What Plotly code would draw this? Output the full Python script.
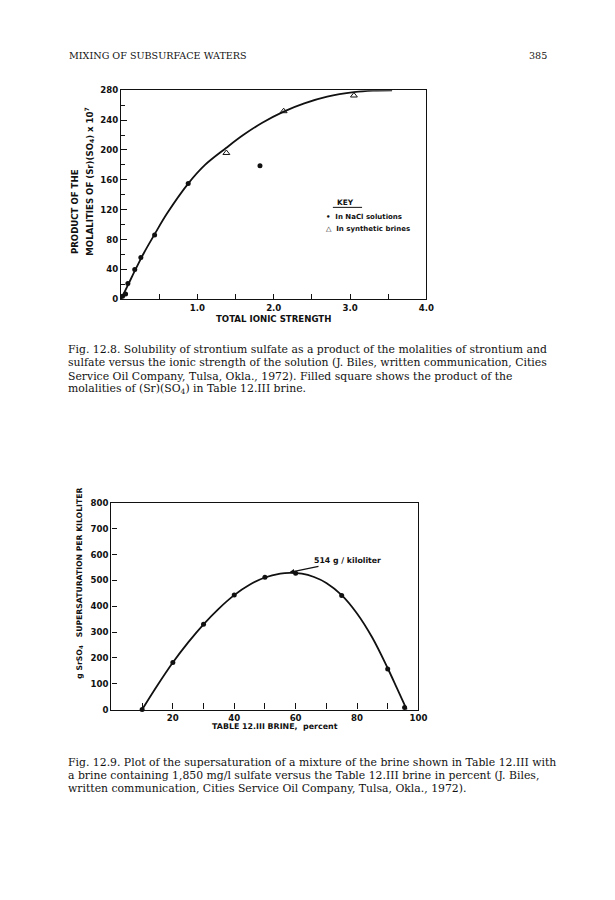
import plotly.graph_objects as go

W, H = 615, 900
OFF = 8  # browser body margin offset compensation
# empirical calibration of the rendered page (output ~= SX*x + BX, SY*y + BY)
SX, BX = 0.979, 1.4
SY, BY = 0.99, 4.0

# ---------------- Fig. 12.8 data ----------------
nacl_x = [0.02, 0.06, 0.09, 0.18, 0.26, 0.44, 0.88, 1.82]
nacl_y = [4, 7, 21, 40, 56, 86, 155, 179]
brine_x = [1.38, 2.13, 3.05]
brine_y = [196, 252, 273]
curve1_x = [0, 0.1, 0.2, 0.3, 0.44, 0.6, 0.88, 1.1, 1.38, 1.6, 1.85, 2.13, 2.4, 2.7, 3.05, 3.3, 3.55]
curve1_y = [0, 21, 42, 62, 87, 114.5, 155, 180, 203, 220, 236.5, 251.5, 262.5, 271.5, 277.5, 279.5, 280]
x1_tickvals = [1, 2, 3, 4]
x1_ticktext = ["1.0", "2.0", "3.0", "4.0"]
y1_tickvals = [0, 40, 80, 120, 160, 200, 240, 280]

# ---------------- Fig. 12.9 data ----------------
mix_x = [10, 20, 30, 40, 50, 60, 75, 90, 95.5]
mix_y = [0, 182, 330, 443, 512, 528, 441, 157, 8]
curve2_x = [10, 15, 20, 25, 30, 35, 40, 45, 50, 55, 58, 62, 66, 70, 75, 80, 85, 90, 93, 96.2]
curve2_y = [0, 94, 182, 260, 330, 391, 443, 483, 511, 526, 529, 526, 513, 490, 443, 372, 278, 160, 83, 0]
x2_tickvals = [20, 40, 60, 80, 100]
y2_tickvals = [0, 100, 200, 300, 400, 500, 600, 700, 800]
peak_label = "514 g / kiloliter"
peak_x, peak_y = 58, 531

INK = "#111111"
SANS = "DejaVu Sans"
SERIF = "DejaVu Serif"


def px(x):
    return ((x - BX) / SX - OFF) / W


def py(y):
    return 1 - ((y - BY) / SY - OFF) / H


fig = go.Figure()

# Fig 12.8 traces
fig.add_trace(go.Scatter(x=curve1_x, y=curve1_y, mode="lines", line=dict(color=INK, width=1.8, shape="spline", smoothing=1.0),
                         xaxis="x", yaxis="y", showlegend=False, hoverinfo="skip", cliponaxis=False))
fig.add_trace(go.Scatter(x=nacl_x, y=nacl_y, mode="markers", marker=dict(symbol="circle", size=5, color=INK),
                         xaxis="x", yaxis="y", showlegend=False, cliponaxis=False))
fig.add_trace(go.Scatter(x=brine_x, y=brine_y, mode="markers",
                         marker=dict(symbol="triangle-up-open", size=6, color=INK, line=dict(width=1)),
                         xaxis="x", yaxis="y", showlegend=False, cliponaxis=False))

# Fig 12.9 traces
fig.add_trace(go.Scatter(x=curve2_x, y=curve2_y, mode="lines", line=dict(color=INK, width=1.8, shape="spline", smoothing=1.0),
                         xaxis="x2", yaxis="y2", showlegend=False, hoverinfo="skip", cliponaxis=False))
fig.add_trace(go.Scatter(x=mix_x, y=mix_y, mode="markers", marker=dict(symbol="circle", size=5, color=INK),
                         xaxis="x2", yaxis="y2", showlegend=False, cliponaxis=False))

tickfont = dict(family=SANS, size=8.6, color=INK, weight="bold")
axis_common = dict(showline=True, linecolor=INK, linewidth=1.3, mirror=True, showgrid=False, zeroline=False,
                   ticks="inside", tickcolor=INK, tickwidth=1.1, tickfont=tickfont)

fig.update_layout(
    width=W, height=H, autosize=False, margin=dict(l=0, r=0, t=0, b=0),
    paper_bgcolor="white", plot_bgcolor="white", showlegend=False,
    xaxis=dict(domain=[px(121.5), px(425)], range=[0, 4], tickvals=x1_tickvals, ticktext=x1_ticktext,
               ticklen=5, minor=dict(ticks="inside", dtick=0.5, ticklen=5, tickcolor=INK, tickwidth=1.1),
               anchor="y", **axis_common),
    yaxis=dict(domain=[py(298.5), py(89.3)], range=[0, 280], tickvals=y1_tickvals, ticklen=6,
               minor=dict(ticks="inside", dtick=20, ticklen=4, tickcolor=INK, tickwidth=1.1),
               anchor="x", **axis_common),
    xaxis2=dict(domain=[px(112), px(417)], range=[0, 100], tickvals=x2_tickvals, ticklen=6,
                minor=dict(ticks="inside", dtick=10, ticklen=6, tickcolor=INK, tickwidth=1.1),
                anchor="y2", **axis_common),
    yaxis2=dict(domain=[py(709.3), py(502.3)], range=[0, 800], tickvals=y2_tickvals, ticklen=5,
                anchor="x2", **axis_common),
)

ann = []


def text(x, y, s, size=9, family=SANS, bold=True, xanchor="center", angle=0, yanchor="middle"):
    f = dict(family=family, size=size, color=INK)
    if bold:
        f["weight"] = "bold"
    ann.append(dict(x=px(x), y=py(y), xref="paper", yref="paper", text=s, showarrow=False,
                    xanchor=xanchor, yanchor=yanchor, textangle=angle, font=f))


# Axis titles Fig 12.8
text(273.5, 318, "TOTAL IONIC STRENGTH", size=8.6)
text(76, 211, "PRODUCT OF THE", size=8.6, angle=-90)
text(89.5, 181, "MOLALITIES OF (Sr)(SO<sub>4</sub>) x 10<sup>7</sup>", size=8.6, angle=-90)
# Key
text(345, 201.5, "KEY", size=7.4)
text(323, 216.5, "•  In NaCl solutions", size=7, xanchor="left")
text(323, 228, "\u25b3  In synthetic brines", size=7, xanchor="left")

# Axis titles Fig 12.9
text(275, 726, "TABLE 12.III BRINE,  percent", size=7.9)
text(81, 583, "g SrSO<sub>4</sub>   SUPERSATURATION PER KILOLITER", size=7.7, angle=-90)

# Peak annotation
ann.append(dict(x=peak_x, y=peak_y, xref="x2", yref="y2", text=peak_label, showarrow=True,
                ax=58, ay=-12, arrowhead=2, arrowsize=0.9, arrowwidth=1.1, arrowcolor=INK,
                font=dict(family=SANS, size=7.8, color=INK, weight="bold"), xanchor="center"))

# Page header
text(68, 54, "MIXING OF SUBSURFACE WATERS", size=9.6, family=SERIF, bold=False, xanchor="left")
text(547, 54, "385", size=9.6, family=SERIF, bold=False, xanchor="right")

cap1 = [
    "Fig. 12.8. Solubility of strontium sulfate as a product of the molalities of strontium and",
    "sulfate versus the ionic strength of the solution (J. Biles, written communication, Cities",
    "Service Oil Company, Tulsa, Okla., 1972). Filled square shows the product of the",
    "molalities of (Sr)(SO<sub>4</sub>) in Table 12.III brine.",
]
for i, line in enumerate(cap1):
    text(67, 349 + i * 13.2, line, size=10.85, family=SERIF, bold=False, xanchor="left")

cap2 = [
    "Fig. 12.9. Plot of the supersaturation of a mixture of the brine shown in Table 12.III with",
    "a brine containing 1,850 mg/l sulfate versus the Table 12.III brine in percent (J. Biles,",
    "written communication, Cities Service Oil Company, Tulsa, Okla., 1972).",
]
for i, line in enumerate(cap2):
    text(67, 762 + i * 13.2, line, size=10.85, family=SERIF, bold=False, xanchor="left")

fig.update_layout(annotations=ann,
                  shapes=[dict(type="line", xref="paper", yref="paper", x0=px(332), x1=px(361),
                               y0=py(206.5), y1=py(206.5), line=dict(color=INK, width=1))])

fig.write_html("out.html", config={"displayModeBar": False})
